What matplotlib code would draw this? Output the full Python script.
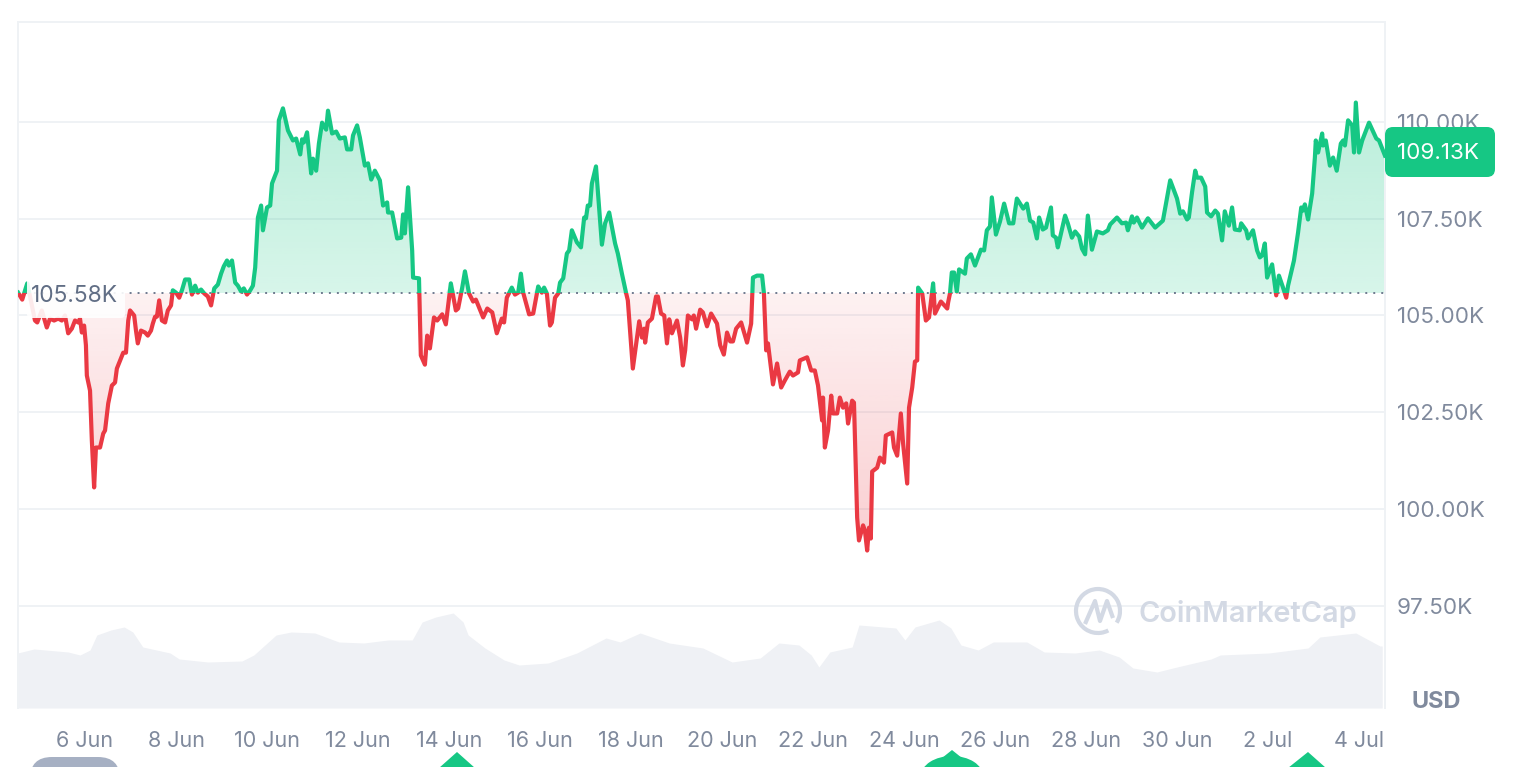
import numpy as np
import matplotlib
matplotlib.use("Agg")
import matplotlib.pyplot as plt
from matplotlib.patches import FancyBboxPatch, PathPatch, Polygon, Ellipse, Rectangle
from matplotlib.path import Path
from matplotlib.transforms import Affine2D

plt.rcParams['font.family'] = ['Inter', 'DejaVu Sans']

# day number counted from 31 May (32 = 2 Jul)
days = [4.53,4.62,4.73,4.81,4.90,4.95,5.05,5.16,5.23,5.32,5.41,5.49,5.56,5.63,5.71,5.78,5.85,5.89,5.93,5.98,
6.02,6.04,6.11,6.15,6.20,6.24,6.33,6.40,6.44,6.51,6.59,6.66,6.70,6.79,6.84,6.90,6.95,6.99,7.08,7.12,7.16,7.23,7.32,7.38,7.45,7.49,7.54,7.58,7.63,7.69,7.76,7.82,7.89,7.93,
8.00,8.07,8.13,8.20,8.29,8.35,8.42,8.48,8.55,8.62,8.70,8.77,8.84,8.92,8.99,9.05,9.12,9.16,9.23,9.30,9.36,9.43,9.49,9.56,9.63,9.69,9.74,9.80,9.87,9.91,
10.00,10.07,10.11,10.22,10.26,10.35,10.46,10.57,10.64,10.73,10.77,10.81,10.88,10.97,11.01,11.08,11.14,11.21,11.30,11.34,11.43,11.52,11.60,11.71,11.76,11.85,11.89,11.98,
12.04,12.15,12.22,12.29,12.37,12.48,12.55,12.64,12.66,12.75,12.86,12.95,12.99,13.03,13.10,13.19,13.21,13.34,13.38,13.47,13.52,13.58,13.67,13.74,13.85,13.93,
14.04,14.15,14.20,14.29,14.35,14.44,14.53,14.59,14.66,14.75,14.84,14.95,15.05,15.16,15.21,15.27,15.38,15.45,15.52,15.58,15.63,15.76,15.85,15.96,
16.04,16.09,16.15,16.22,16.26,16.33,16.40,16.44,16.51,16.59,16.64,16.70,16.81,16.90,16.97,17.01,17.05,17.10,17.14,17.23,17.27,17.36,17.43,17.52,17.65,17.71,17.80,17.89,17.93,
18.04,18.18,18.24,18.29,18.31,18.37,18.46,18.55,18.59,18.66,18.73,18.79,18.84,18.90,19.01,19.08,19.14,19.19,19.25,19.34,19.38,19.43,19.52,19.58,19.67,19.76,19.89,19.96,
20.04,20.11,20.18,20.24,20.31,20.42,20.55,20.64,20.68,20.77,20.88,20.92,20.97,21.01,21.12,21.21,21.30,21.38,21.49,21.56,21.67,21.71,21.87,21.96,
22.04,22.11,22.20,22.22,22.26,22.33,22.40,22.44,22.53,22.59,22.66,22.73,22.77,22.86,22.90,22.97,23.01,23.10,23.14,23.19,23.23,23.27,23.30,23.41,23.47,23.56,23.60,23.74,23.78,23.85,23.93,23.98,
24.07,24.11,24.18,24.24,24.29,24.31,24.40,24.48,24.55,24.64,24.68,24.81,24.95,24.97,25.01,25.05,25.10,25.16,25.21,25.34,25.38,25.47,25.56,25.69,25.76,25.82,25.89,25.93,
26.02,26.11,26.20,26.31,26.40,26.48,26.62,26.70,26.77,26.84,26.92,26.97,27.05,27.12,27.23,27.27,27.34,27.38,27.54,27.60,27.69,27.76,27.85,27.91,27.98,
28.04,28.13,28.24,28.37,28.48,28.53,28.68,28.79,28.88,28.92,29.01,29.05,29.12,29.23,29.36,29.52,29.69,29.85,
30.00,30.07,30.13,30.22,30.26,30.33,30.40,30.44,30.53,30.62,30.66,30.75,30.84,30.90,30.99,31.05,31.14,31.21,31.27,31.38,31.41,31.52,31.56,31.67,31.76,31.82,31.87,31.93,31.98,
32.09,32.18,32.24,32.33,32.40,32.44,32.57,32.66,32.73,32.77,32.81,32.88,32.97,33.03,33.05,33.10,33.19,33.21,33.27,33.36,33.43,33.51,33.60,33.65,33.69,33.76,33.85,33.89,33.93,
34.00,34.07,34.22,34.38,34.44,34.57]

prices = [105.59,105.41,105.83,105.39,104.87,104.82,105.13,104.69,104.92,104.87,104.92,104.87,105.00,104.54,104.66,104.87,104.82,104.92,104.56,104.74,
104.23,103.45,103.06,101.77,100.56,101.59,101.59,101.95,102.03,102.73,103.19,103.27,103.63,103.89,104.04,104.04,104.87,105.13,105.00,104.61,104.28,104.61,104.56,104.48,104.61,104.79,104.97,104.97,105.39,104.87,104.82,105.13,105.26,105.65,
105.59,105.46,105.65,105.93,105.93,105.54,105.77,105.59,105.67,105.57,105.49,105.26,105.70,105.80,106.08,106.27,106.42,106.29,106.42,105.85,105.77,105.62,105.70,105.54,105.65,105.77,106.24,107.53,107.84,107.20,
107.79,107.84,108.41,108.74,110.04,110.35,109.78,109.52,109.57,109.16,109.55,109.47,109.73,108.67,109.05,108.74,109.44,109.98,109.80,110.29,109.70,109.75,109.57,109.60,109.29,109.29,109.65,109.91,
109.60,108.87,108.93,108.51,108.74,108.49,107.84,107.92,107.66,107.66,106.99,107.01,107.61,107.12,108.31,106.68,105.98,105.96,103.97,103.73,104.48,104.15,104.95,104.87,105.03,104.77,
105.83,105.13,105.18,105.72,106.14,105.57,105.36,105.41,105.21,104.95,105.18,105.08,104.54,104.92,104.82,105.46,105.72,105.54,105.59,106.08,105.59,105.03,105.05,105.75,
105.59,105.72,105.57,104.74,104.82,105.46,105.57,105.85,105.96,106.60,106.68,107.20,106.89,106.76,107.53,107.51,107.84,107.84,108.41,108.85,108.23,106.83,107.38,107.66,106.86,106.60,106.08,105.59,105.39,
103.63,104.85,104.43,104.66,104.30,104.82,104.92,105.49,105.49,105.05,105.00,104.28,104.90,104.54,104.87,104.43,103.71,104.10,105.00,104.90,105.00,104.66,105.15,105.08,104.72,105.05,104.79,104.23,
103.99,104.56,104.33,104.33,104.66,104.82,104.30,104.79,105.98,106.03,106.03,105.59,104.10,104.28,103.22,103.76,103.14,103.32,103.55,103.45,103.53,103.84,103.92,103.58,
103.58,103.19,102.29,102.88,101.59,102.03,102.93,102.47,102.47,102.88,102.62,102.73,102.21,102.80,102.75,99.78,99.19,99.58,99.45,98.93,99.52,99.24,100.97,101.07,101.33,101.20,101.90,101.98,101.59,101.38,102.47,101.69,
100.66,102.62,103.14,103.81,103.84,105.72,105.57,104.87,104.95,105.83,105.05,105.36,105.18,105.34,105.57,106.11,106.11,105.62,106.19,106.08,106.47,106.58,106.29,106.70,106.68,107.20,107.30,108.05,
107.09,107.43,107.89,107.38,107.38,108.02,107.76,107.89,107.45,107.40,106.99,107.53,107.22,107.27,107.79,107.07,107.01,106.76,107.58,107.38,107.01,107.17,107.04,106.73,106.58,
107.58,106.70,107.17,107.12,107.20,107.35,107.53,107.38,107.40,107.20,107.56,107.40,107.53,107.27,107.51,107.27,107.45,108.49,
108.02,107.63,107.69,107.48,107.53,108.18,108.74,108.56,108.56,108.33,107.66,107.56,107.71,107.63,106.94,107.69,107.32,107.79,107.22,107.20,107.38,107.20,106.99,107.20,106.68,106.50,106.55,106.86,105.98,
106.32,105.52,106.03,105.72,105.46,105.77,106.42,107.14,107.79,107.71,107.87,107.48,108.15,109.08,109.52,109.21,109.70,109.39,109.52,108.87,109.08,108.74,109.44,109.52,109.39,110.04,109.91,109.21,110.50,
109.21,109.52,109.98,109.57,109.52,109.13]

vol_days = [4.52,4.88,5.63,5.89,6.11,6.26,6.57,6.86,7.05,7.27,7.87,8.07,8.70,9.45,9.71,10.20,10.53,11.05,11.58,12.13,12.66,13.19,13.41,13.71,14.09,14.31,14.42,14.79,15.21,15.54,16.18,16.81,17.45,17.76,18.20,18.84,19.58,20.22,20.84,21.25,21.69,21.96,22.13,22.37,22.86,23.01,23.82,24.02,24.24,24.77,25.03,25.25,25.63,25.96,26.70,27.08,27.76,28.29,28.73,29.03,29.56,30.00,30.75,30.95,32.02,32.88,33.14,33.93,34.46,34.51]
volumes = [55,59,56,53,58,73,78,81,76,61,55,49,46,47,53,73,76,75,66,65,68,68,86,91,95,86,73,60,48,43,45,55,70,66,75,65,60,46,50,65,63,53,41,56,61,83,80,68,81,88,80,63,58,66,66,56,55,58,51,40,36,41,49,53,55,60,71,75,62,62]

base_price = 105.58
last_price = 109.13
y_ticks = [97.5, 100, 102.5, 105, 107.5, 110]
y_labels = ['97.50K', '100.00K', '102.50K', '105.00K', '107.50K', '110.00K']
x_ticks = [6, 8, 10, 12, 14, 16, 18, 20, 22, 24, 26, 28, 30, 32, 34]
x_labels = ['6 Jun', '8 Jun', '10 Jun', '12 Jun', '14 Jun', '16 Jun', '18 Jun', '20 Jun',
            '22 Jun', '24 Jun', '26 Jun', '28 Jun', '30 Jun', '2 Jul', '4 Jul']

GREEN, RED, GREY, EDGE = '#16c784', '#ea3943', '#808a9d', '#eff2f5'
W, H = 1520, 767
days, prices = np.array(days), np.array(prices)

fig = plt.figure(figsize=(W / 100, H / 100), dpi=100, facecolor='white')
pix = Affine2D().scale(1, -1).translate(0, H)  # figure decoration in top-left pixel terms

ax = fig.add_axes([18 / W, 1 - 708 / H, (1385 - 18) / W, (708 - 22) / H])
xlim = (4.527, 34.571)
ylim = (94.863, 112.58)

# volume area on its own scale
vax = ax.twinx()
vax.set_ylim(0, 686)
vax.set_xlim(*xlim)
vax.axis('off')
vax.set_zorder(ax.get_zorder() - 1)
ax.patch.set_visible(False)
vax.fill_between(vol_days, volumes, 0, color='#eff1f5', lw=0)

ax.set_xlim(*xlim)
ax.set_ylim(*ylim)
for s in ('left', 'top', 'right'):
    ax.spines[s].set_color(EDGE)
    ax.spines[s].set_linewidth(1.4)
ax.spines['bottom'].set_visible(False)
ax.yaxis.tick_right()
ax.set_yticks(y_ticks, y_labels)
ax.set_xticks(x_ticks, x_labels)
ax.tick_params(axis='y', length=0, pad=8.6, labelsize=16.1, labelcolor=GREY)
ax.tick_params(axis='x', length=0, pad=16.5, labelsize=15.5, labelcolor=GREY)
ax.grid(axis='y', color=EDGE, lw=1.4, zorder=1)
ax.set_axisbelow(True)


def gradient_fill(series, color, a_base, a_far, far):
    poly = ax.fill_between(days, series, base_price, color='none', lw=0)
    rgb = matplotlib.colors.to_rgb(color)
    n = 256
    img = np.zeros((n, 2, 4))
    img[..., :3] = rgb
    img[..., 3] = np.linspace(a_far, a_base, n)[:, None] if far > base_price else np.linspace(a_base, a_far, n)[:, None]
    lo, hi = min(base_price, far), max(base_price, far)
    im = ax.imshow(img, extent=(xlim[0], xlim[1], lo, hi), origin='upper', aspect='auto', zorder=1.5)
    im.set_clip_path(poly.get_paths()[0], ax.transData)
    poly.remove()


gradient_fill(np.maximum(prices, base_price), GREEN, 0.17, 0.3, 110.6)
gradient_fill(np.minimum(prices, base_price), RED, 0.07, 0.25, 98.9)
ax.set_xlim(*xlim)
ax.set_ylim(*ylim)

ax.axhline(base_price, color='#6f7a8f', lw=1.4, dashes=(1, 3.1), zorder=2)

for color, lo, hi in ((GREEN, base_price, ylim[1]), (RED, ylim[0], base_price)):
    ln, = ax.plot(days, prices, color=color, lw=3.0, solid_joinstyle='round', zorder=3)
    ln.set_clip_path(Rectangle((xlim[0], lo), xlim[1] - xlim[0], hi - lo, transform=ax.transData))

# baseline label on a translucent plate
fig.add_artist(FancyBboxPatch((27, 273), 98, 45, boxstyle='round,pad=0,rounding_size=4', transform=pix,
                              fc='white', ec='none', alpha=0.9, zorder=1))
fig.text(31 / W, 1 - 296 / H, '105.58K', color='#616e85', fontsize=16.4, va='center', ha='left', zorder=3)

# current price tag
fig.add_artist(FancyBboxPatch((1385, 127), 110, 50, boxstyle='round,pad=0,rounding_size=8', transform=pix,
                              fc=GREEN, ec='none', zorder=4))
fig.text(1397 / W, 1 - 153 / H, f'{last_price:.2f}K', color='white', fontsize=16.1, va='center', ha='left', zorder=5)
fig.text(1436 / W, 1 - 702 / H, 'USD', color=GREY, fontsize=17, fontweight='bold', va='center', ha='center', zorder=3)

# watermark
WM = '#d3d9e4'
fig.add_artist(PathPatch(Path.arc(62, 392), transform=Affine2D().scale(22).translate(1098, 611) + pix,
                         fc='none', ec=WM, lw=3, zorder=2))
fig.add_artist(PathPatch(Path([(1085, 624), (1095, 601), (1100, 621), (1107, 601), (1113, 618)],
                              [Path.MOVETO] + [Path.LINETO] * 4),
                         transform=pix, fc='none', ec=WM, lw=3, joinstyle='round', zorder=2))
fig.text(1138 / W, 1 - 614 / H, 'CoinMarketCap', color=WM, fontsize=20.8, fontweight='semibold',
         va='center', ha='left', zorder=3)

# event markers cut off by the lower edge
fig.add_artist(FancyBboxPatch((30, 757), 90, 44, boxstyle='round,pad=0,rounding_size=22', transform=pix,
                              fc='#a6b0c3', ec='none', zorder=2))
for tri in ([(457, 752), (439, 768), (475, 768)], [(1308, 752), (1288, 768), (1326, 768)]):
    fig.add_artist(Polygon(tri, closed=True, transform=pix, fc=GREEN, ec='none', zorder=2))
fig.add_artist(Ellipse((952, 776), 62, 40, transform=pix, fc=GREEN, ec='none', zorder=2))
fig.add_artist(Polygon([(952, 750), (942, 758), (962, 758)], closed=True, transform=pix, fc=GREEN, ec='none', zorder=2))

fig.savefig('out.png', dpi=100)
